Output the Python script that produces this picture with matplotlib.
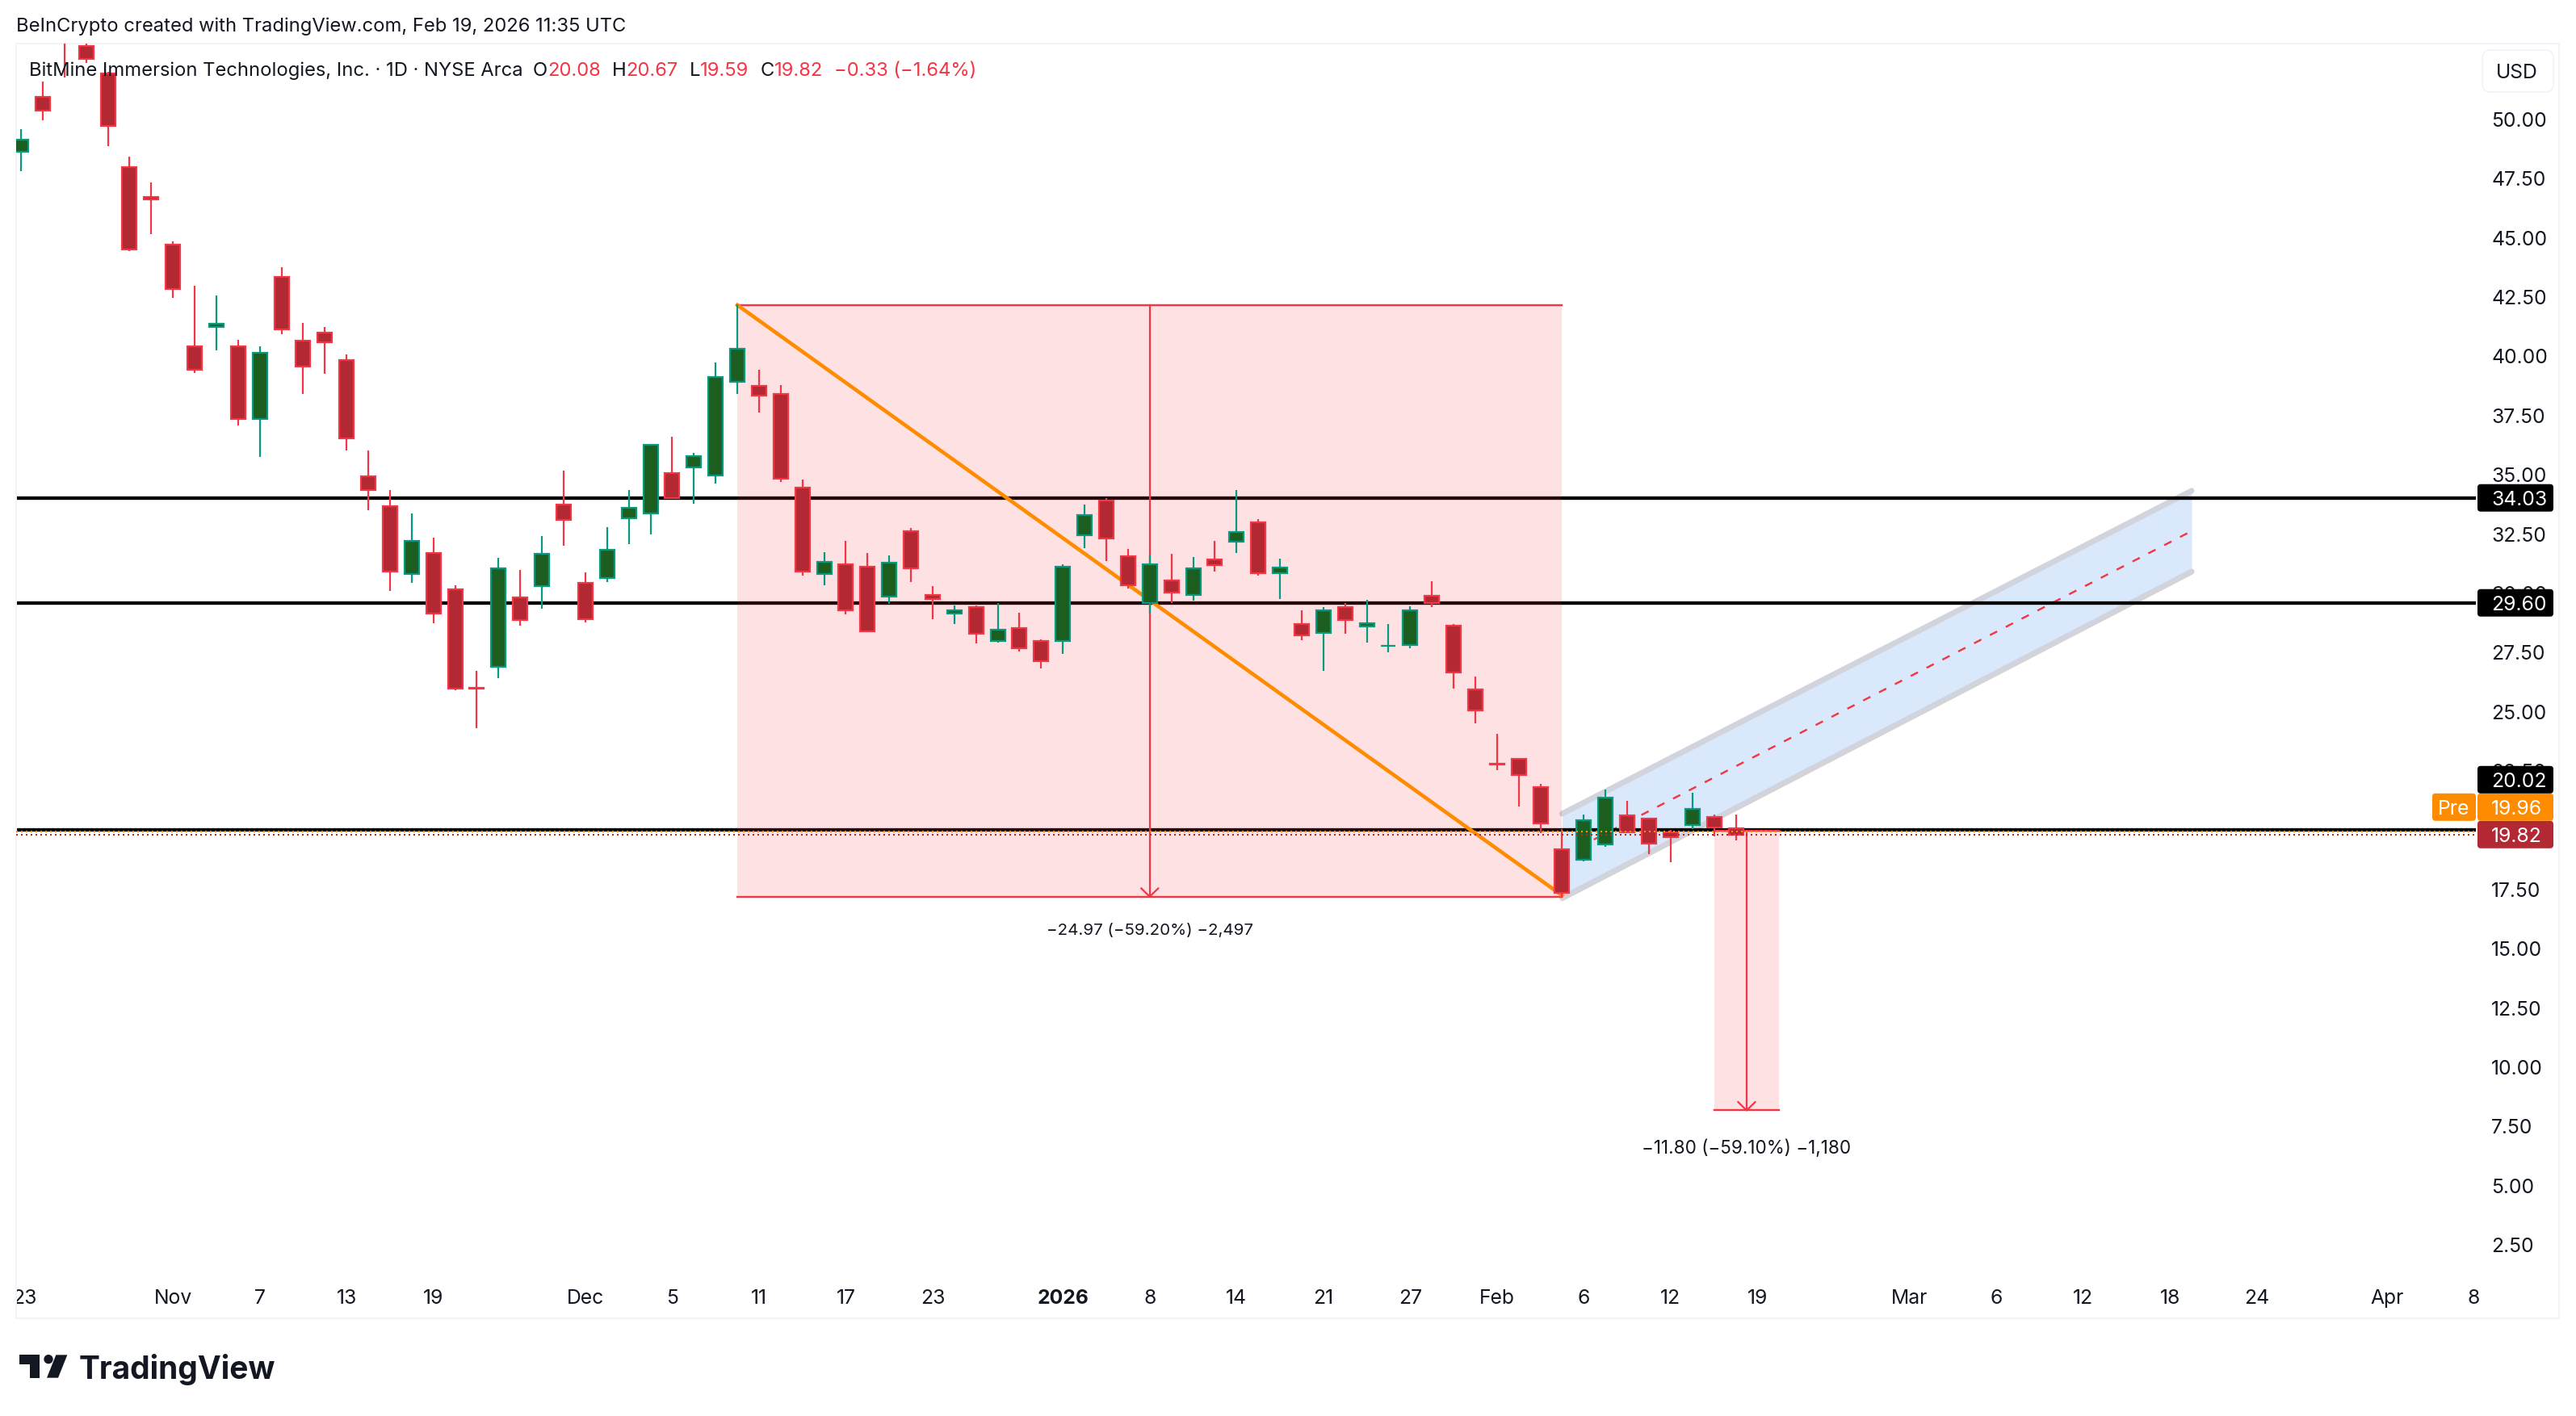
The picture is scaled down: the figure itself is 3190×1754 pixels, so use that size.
import matplotlib
matplotlib.use("Agg")
import matplotlib.pyplot as plt
from matplotlib.patches import FancyBboxPatch, Polygon, Circle
from matplotlib.transforms import IdentityTransform

W, H, DPI = 3190, 1754, 200
plt.rcParams["font.family"] = ["Inter", "DejaVu Sans"]

# Daily candles, oldest first
highs = [49.59, 51.60, 58.00, 55.00, 52.00, 48.43, 47.34, 44.85, 42.99, 42.58,
         40.70, 40.44, 43.75, 41.40, 41.24, 40.10, 36.03, 34.36, 33.37, 32.35,
         30.34, 26.73, 31.50, 30.99, 32.42, 35.18, 30.89, 32.79, 34.36, 36.30,
         36.61, 35.93, 39.76, 42.20, 39.44, 38.79, 34.80, 31.74, 32.22, 31.70,
         31.60, 32.76, 30.31, 29.49, 29.49, 29.59, 29.18, 28.06, 31.23, 33.75,
         34.02, 31.87, 31.64, 31.67, 31.53, 32.22, 34.36, 33.14, 31.47, 29.28,
         29.42, 29.59, 29.73, 28.71, 29.46, 30.51, 28.71, 26.49, 24.07, 23.05,
         21.96, 20.05, 20.67, 21.71, 21.24, 20.49, 20.01, 21.59, 20.65, 20.67]
body_tops = [49.14, 50.94, 56.50, 53.09, 51.93, 47.98, 46.73, 44.71, 40.44, 41.38,
             40.44, 40.17, 43.34, 40.65, 40.99, 39.83, 34.93, 33.67, 32.20, 31.69,
             30.16, 26.00, 31.05, 29.82, 31.66, 33.74, 30.43, 31.83, 33.60, 36.26,
             35.07, 35.78, 39.14, 40.32, 38.74, 38.42, 34.45, 31.32, 31.22, 31.11,
             31.29, 32.61, 29.92, 29.27, 29.41, 28.46, 28.53, 27.98, 31.11, 33.30,
             33.91, 31.56, 31.22, 30.54, 31.05, 31.42, 32.58, 32.99, 31.08, 28.70,
             29.27, 29.41, 28.73, 27.80, 29.27, 29.89, 28.63, 25.94, 22.81, 23.01,
             21.81, 19.19, 20.42, 21.37, 20.62, 20.48, 19.91, 20.89, 20.55, 20.08]
body_bottoms = [48.65, 50.38, 54.50, 52.55, 49.74, 44.53, 46.63, 42.86, 39.44, 41.25,
                37.36, 37.37, 41.15, 39.59, 40.58, 36.55, 34.37, 30.92, 30.83, 29.16,
                25.99, 25.98, 26.91, 28.88, 30.31, 33.11, 28.91, 30.65, 33.17, 33.38,
                34.02, 35.31, 34.99, 38.91, 38.36, 34.85, 30.93, 30.83, 29.30, 28.41,
                29.87, 31.07, 29.77, 29.16, 28.31, 28.00, 27.69, 27.15, 28.00, 32.46,
                32.33, 30.35, 29.60, 30.05, 29.94, 31.20, 32.19, 30.86, 30.86, 28.24,
                28.34, 28.89, 28.61, 27.79, 27.83, 29.59, 26.67, 25.07, 22.78, 22.34,
                20.30, 17.37, 18.77, 19.40, 19.93, 19.45, 19.72, 20.23, 20.13, 19.82]
lows = [47.83, 49.95, 51.76, 52.40, 48.88, 44.45, 45.17, 42.47, 39.30, 40.26,
        37.09, 35.77, 40.94, 38.42, 39.27, 36.03, 33.51, 30.10, 30.44, 28.74,
        25.91, 24.31, 26.42, 28.64, 29.35, 32.01, 28.78, 30.49, 32.08, 32.49,
        33.99, 33.78, 34.63, 38.42, 37.63, 34.71, 30.76, 30.35, 29.13, 28.38,
        29.57, 30.48, 28.91, 28.71, 27.89, 27.92, 27.55, 26.83, 27.45, 31.91,
        31.36, 30.20, 29.15, 29.59, 29.69, 30.92, 31.70, 30.75, 29.76, 28.02,
        26.73, 28.30, 27.92, 27.51, 27.68, 29.42, 25.98, 24.52, 22.54, 21.01,
        19.89, 17.14, 18.70, 19.31, 19.89, 19.01, 18.66, 20.04, 19.76, 19.59]
up_bars = [0, 9, 11, 18, 22, 24, 27, 28, 29, 31, 32, 33, 37, 40, 43, 45, 48, 49,
           52, 54, 56, 58, 60, 62, 63, 64, 72, 73, 77]

# Axis labels
y_ticks = [50, 47.5, 45, 42.5, 40, 37.5, 35, 32.5, 30, 27.5, 25, 22.5, 17.5, 15,
           12.5, 10, 7.5, 5, 2.5]
x_tick_pos = [0.15, 7, 11, 15, 19, 26, 30, 34, 38, 42, 48, 52, 56, 60, 64, 68, 72,
              76, 80, 87, 91, 95, 99, 103, 109, 113]
x_tick_labels = ["23", "Nov", "7", "13", "19", "Dec", "5", "11", "17", "23", "2026",
                 "8", "14", "21", "27", "Feb", "6", "12", "19", "Mar", "6", "12",
                 "18", "24", "Apr", "8"]

# Price levels and drawings
level_prices = [34.03, 29.60, 20.02]
pre_price = 19.96
last_price = 19.82
short_top, short_bottom = 42.17, 17.20
target_top, target_bottom = 20.00, 8.18
channel_top = [20.70, 34.33]
channel_mid = [18.92, 32.63]
channel_bottom = [17.14, 30.92]

RED = "#f23645"
RED_BODY = "#b22833"
GREEN = "#089981"
GREEN_BODY = "#1b5e20"
ORANGE = "#ff8c00"
TEXT = "#131722"
FRAME = "#f0f3fa"
AXIS_SIZE = 8.9


def lw(px):
    return px * 72 / DPI


fig = plt.figure(figsize=(W / DPI, H / DPI), dpi=DPI, facecolor="white")
ax = fig.add_axes([20 / W, 1 - 1633 / H, (3169 - 20) / W, (1633 - 54) / H])

# pane edges in bar units / price units
ax.set_xlim((20 - 26) / 26.88, (3169 - 26) / 26.88)
ax.set_ylim(50 - (1633 - 148) / 29.35, 50 + (148 - 54) / 29.35)
pane_left, pane_right = ax.get_xlim()[0], 113.1

for spine in ax.spines.values():
    spine.set_color(FRAME)
    spine.set_linewidth(lw(2))

# Channel
ch_x = [71, 100]
ax.fill_between(ch_x, channel_bottom, channel_top, color="#dae8fb", lw=0, zorder=1)
for edge in (channel_top, channel_bottom):
    ax.plot(ch_x, edge, color="#d1d4dc", lw=lw(7), solid_capstyle="round", zorder=1.2)
ax.plot(ch_x, [p - 0.12 for p in channel_bottom], color="#f7cf9c", lw=lw(1), zorder=1.1)
ax.plot(ch_x, channel_mid, color=RED, lw=lw(2.4), linestyle=(0, (4.2, 5)),
        dash_capstyle="butt", zorder=1.3)

# Horizontal levels
for level in level_prices:
    ax.plot([pane_left, pane_right], [level, level], color="black", lw=lw(4.3),
            solid_capstyle="butt", zorder=2)

# Short position box
ax.fill_between([33, 71], short_bottom, short_top, color=RED, alpha=0.15, lw=0, zorder=3)
for level in (short_top, short_bottom):
    ax.plot([33, 71], [level, level], color=RED, lw=lw(2.4), zorder=3.1)
ax.plot([52, 52], [short_top, short_bottom], color=RED, lw=lw(2.2), zorder=3.1)
ax.plot([51.61, 52, 52.39], [short_bottom + 0.35, short_bottom, short_bottom + 0.35],
        color=RED, lw=lw(2.2), zorder=3.1)
ax.plot([33, 71], [short_top, 17.25], color=ORANGE, lw=lw(4.6), zorder=4)

# Target box
ax.fill_between([78, 81], target_bottom, target_top, color=RED, alpha=0.15, lw=0, zorder=3)
for level in (target_top, target_bottom):
    ax.plot([78, 81], [level, level], color=RED, lw=lw(2.4), zorder=3.1)
ax.plot([79.5, 79.5], [target_top, target_bottom], color=RED, lw=lw(2.2), zorder=3.1)
ax.plot([79.11, 79.5, 79.89], [target_bottom + 0.35, target_bottom, target_bottom + 0.35],
        color=RED, lw=lw(2.2), zorder=3.1)

# Candles
for i in range(len(highs)):
    is_up = i in up_bars
    edge = GREEN if is_up else RED
    ax.vlines(i, lows[i], highs[i], color=edge, lw=lw(2.2), zorder=5)
    ax.bar(i, body_tops[i] - body_bottoms[i], bottom=body_bottoms[i], width=0.67,
           color=GREEN_BODY if is_up else RED_BODY, edgecolor=edge, linewidth=lw(2.2), zorder=5.1)

# Dotted pre-market and last price lines
ax.plot([pane_left, pane_right], [pre_price, pre_price], color=ORANGE, lw=lw(2),
        linestyle=(0, (1, 2)), dash_capstyle="butt", zorder=6)
ax.plot([pane_left, pane_right], [last_price, last_price], color=RED_BODY, lw=lw(2),
        linestyle=(0, (1, 2)), dash_capstyle="butt", zorder=6)

# Axes labels
ax.yaxis.tick_right()
ax.set_yticks(y_ticks)
ax.set_yticklabels([f"{v:.2f}" for v in y_ticks])
ax.tick_params(axis="y", length=0, pad=-lw(84), labelsize=AXIS_SIZE, labelcolor=TEXT)
ax.set_xticks(x_tick_pos)
ax.set_xticklabels(x_tick_labels)
ax.tick_params(axis="x", length=0, pad=-lw(36), labelsize=AXIS_SIZE, labelcolor=TEXT)
for label in ax.get_xticklabels():
    label.set_clip_box(ax.bbox)
    label.set_clip_on(True)
    if label.get_text() == "2026":
        label.set_fontweight("bold")

# Measure labels
ax.text(52, short_bottom - 1.14, "\u221224.97 (\u221259.20%) \u22122,497", ha="center", va="top",
        fontsize=7.4, color=TEXT, zorder=7)
ax.text(79.5, target_bottom - 1.24, "\u221211.80 (\u221259.10%) \u22121,180", ha="center", va="top",
        fontsize=8.1, color=TEXT, zorder=7)

pixel = IdentityTransform()


def tag(x0, x1, yc, color, text, text_x, ha="left"):
    box = FancyBboxPatch((x0, yc - 17), x1 - x0, 34, boxstyle="round,pad=0,rounding_size=4",
                         transform=pixel, facecolor=color, edgecolor="none", clip_on=False, zorder=8)
    ax.add_patch(box)
    ax.text(text_x, yc, text, transform=pixel, color="white", fontsize=AXIS_SIZE, ha=ha,
            va="center_baseline", clip_on=False, zorder=9)


# Price tags on the right
def price_y(price):
    return ax.transData.transform((0, price))[1]


for level in level_prices[:2]:
    tag(3068, 3162, price_y(level), "black", f"{level:.2f}", 3085)
last_y = price_y(last_price)
tag(3068, 3162, last_y, RED_BODY, f"{last_price:.2f}", 3085)
tag(3068, 3162, last_y + 34, ORANGE, f"{pre_price:.2f}", 3085)
tag(3012, 3066, last_y + 34, ORANGE, "Pre", 3039, ha="center")
tag(3068, 3162, last_y + 68, "black", f"{level_prices[2]:.2f}", 3085)

# USD button
ax.add_patch(FancyBboxPatch((3074, H - 114), 88, 52, boxstyle="round,pad=0,rounding_size=10",
                            transform=pixel, facecolor="white", edgecolor=FRAME, linewidth=lw(1.5),
                            clip_on=False, zorder=8))
ax.text(3117, H - 88, "USD", transform=pixel, ha="center", va="center_baseline", fontsize=AXIS_SIZE,
        color=TEXT, zorder=9)

# Header and legend text
fig.text(20 / W, 1 - 33 / H, "BeInCrypto created with TradingView.com, Feb 19, 2026 11:35 UTC",
         fontsize=8.55, color=TEXT, va="center")

legend_parts = [("BitMine Immersion Technologies, Inc. \u00b7 1D \u00b7 NYSE Arca", TEXT, 0),
                ("O", TEXT, 4.4), ("20.08", RED, 0),
                ("H", TEXT, 5), ("20.67", RED, 0),
                ("L", TEXT, 5), ("19.59", RED, 0),
                ("C", TEXT, 5), ("19.82", RED, 0),
                ("\u22120.33 (\u22121.64%)", RED, 5)]
prev = None
for part, color, gap in legend_parts:
    if prev is None:
        prev = ax.text(36, H - 87.5, part, transform=pixel, fontsize=8.55, color=color,
                       va="center", zorder=9)
    else:
        prev = ax.annotate(part, xy=(1, 0), xycoords=prev, xytext=(gap, 0),
                           textcoords="offset points", fontsize=8.55, color=color,
                           va="bottom", zorder=9)

# TradingView logo
logo_x = lambda v: 10 + v / 3
logo_y = lambda v: H - (1660 + v / 3)
ink = "#131722"
fig.add_artist(Polygon([(logo_x(a), logo_y(b)) for a, b in
                        [(42, 55), (116, 55), (116, 140), (80, 140), (80, 90), (42, 90)]],
                       closed=True, transform=pixel, facecolor=ink, edgecolor="none"))
fig.add_artist(Circle((logo_x(150), logo_y(71)), 17 / 3, transform=pixel, facecolor=ink, edgecolor="none"))
fig.add_artist(Polygon([(logo_x(a), logo_y(b)) for a, b in
                        [(178, 55), (220, 55), (186, 140), (144, 140)]],
                       closed=True, transform=pixel, facecolor=ink, edgecolor="none"))
fig.text(98 / W, 1 - 1708 / H, "TradingView", fontsize=14, fontweight="bold", color=ink,
         va="baseline")

fig.savefig("out.png", dpi=DPI)
